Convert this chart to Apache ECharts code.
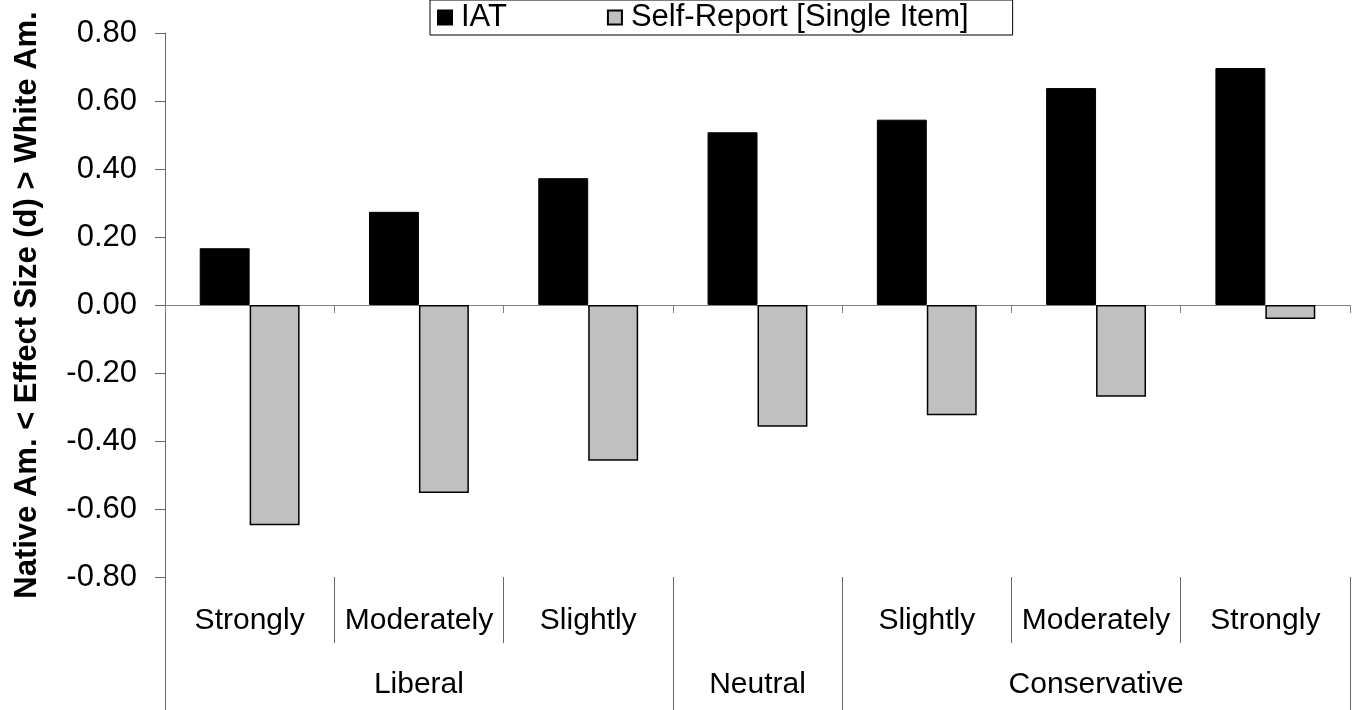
<!DOCTYPE html>
<html>
<head>
<meta charset="utf-8">
<script src="https://cdn.jsdelivr.net/npm/echarts@6/dist/echarts.min.js"></script>
<style>
  html, body { margin: 0; padding: 0; background: #fff; }
  #chart { width: 1352px; height: 710px; }
</style>
</head>
<body>
<div id="chart"></div>
<script>
  // categories (sub level) and groups
  var subLabels = ['Strongly', 'Moderately', 'Slightly', '', 'Slightly', 'Moderately', 'Strongly'];
  var groupLabels = ['Liberal', 'Neutral', 'Conservative'];
  var groupSpans = [3, 1, 3];

  // effect sizes (d)
  var iatValues = [0.167, 0.274, 0.373, 0.508, 0.545, 0.638, 0.697];
  var selfValues = [-0.648, -0.553, -0.458, -0.358, -0.324, -0.270, -0.041];

  var yTicks = [-0.8, -0.6, -0.4, -0.2, 0, 0.2, 0.4, 0.6, 0.8];

  // group labels placed on the middle category of each span
  var groupRow = [];
  var groupStarts = [];
  groupSpans.forEach(function (span, g) {
    groupStarts.push(groupRow.length);
    for (var k = 0; k < span; k++) {
      groupRow.push(k === Math.floor(span / 2) ? groupLabels[g] : '');
    }
  });

  var font = '"Liberation Sans", Arial, sans-serif';
  var myChart = echarts.init(document.getElementById('chart'));

  var option = {
    animation: false,
    textStyle: { fontFamily: font },
    grid: { left: 165, right: 2, top: 33, bottom: 133, containLabel: false },
    legend: {
      left: 430,
      top: 0,
      icon: 'rect',
      itemWidth: 14,
      itemHeight: 14,
      itemGap: 100,
      padding: [2, 44, 2, 7],
      borderColor: '#000',
      borderWidth: 1,
      textStyle: { fontSize: 31, color: '#000', fontFamily: font, padding: [0, 0, 0, 4] },
      data: ['IAT', 'Self-Report [Single Item]']
    },
    xAxis: [
      {
        type: 'category',
        data: subLabels,
        axisLine: { onZero: true, lineStyle: { color: '#808080', width: 1 } },
        axisTick: { show: true, length: 8, lineStyle: { color: '#808080' } },
        axisLabel: { show: false }
      },
      {
        type: 'category',
        position: 'bottom',
        data: subLabels,
        axisLine: { show: false, onZero: false },
        axisTick: { show: true, length: 66, interval: 0, lineStyle: { color: '#666' } },
        axisLabel: { interval: 0, margin: 29, fontSize: 30, color: '#000', fontFamily: font }
      },
      {
        type: 'category',
        position: 'bottom',
        data: groupRow,
        axisLine: { show: false, onZero: false },
        axisTick: {
          show: true,
          length: 140,
          interval: function (index) { return groupStarts.indexOf(index) >= 0; },
          lineStyle: { color: '#666' }
        },
        axisLabel: { interval: 0, margin: 93, fontSize: 30, color: '#000', fontFamily: font }
      }
    ],
    yAxis: {
      type: 'value',
      min: yTicks[0],
      max: yTicks[yTicks.length - 1],
      interval: 0.2,
      name: 'Native Am. < Effect Size (d) > White Am.',
      nameLocation: 'middle',
      nameGap: 122,
      nameTextStyle: { fontSize: 31, fontWeight: 'bold', color: '#000', fontFamily: font },
      axisLine: { show: true, lineStyle: { color: '#666', width: 1 } },
      axisTick: { show: true, length: 10, lineStyle: { color: '#666' } },
      splitLine: { show: false },
      axisLabel: {
        margin: 28,
        fontSize: 31,
        color: '#000',
        fontFamily: font,
        formatter: function (v) { return v.toFixed(2); }
      }
    },
    series: [
      {
        name: 'IAT',
        type: 'bar',
        xAxisIndex: 0,
        data: iatValues,
        barGap: '0%',
        barCategoryGap: '41%',
        itemStyle: { color: '#000', borderColor: '#000', borderWidth: 1 }
      },
      {
        name: 'Self-Report [Single Item]',
        type: 'bar',
        xAxisIndex: 0,
        data: selfValues,
        barGap: '0%',
        barCategoryGap: '41%',
        itemStyle: { color: '#c0c0c0', borderColor: '#000', borderWidth: 1.5 }
      }
    ]
  };

  myChart.setOption(option);
  window.addEventListener('resize', function () {
    myChart.resize();
  });
</script>
</body>
</html>
